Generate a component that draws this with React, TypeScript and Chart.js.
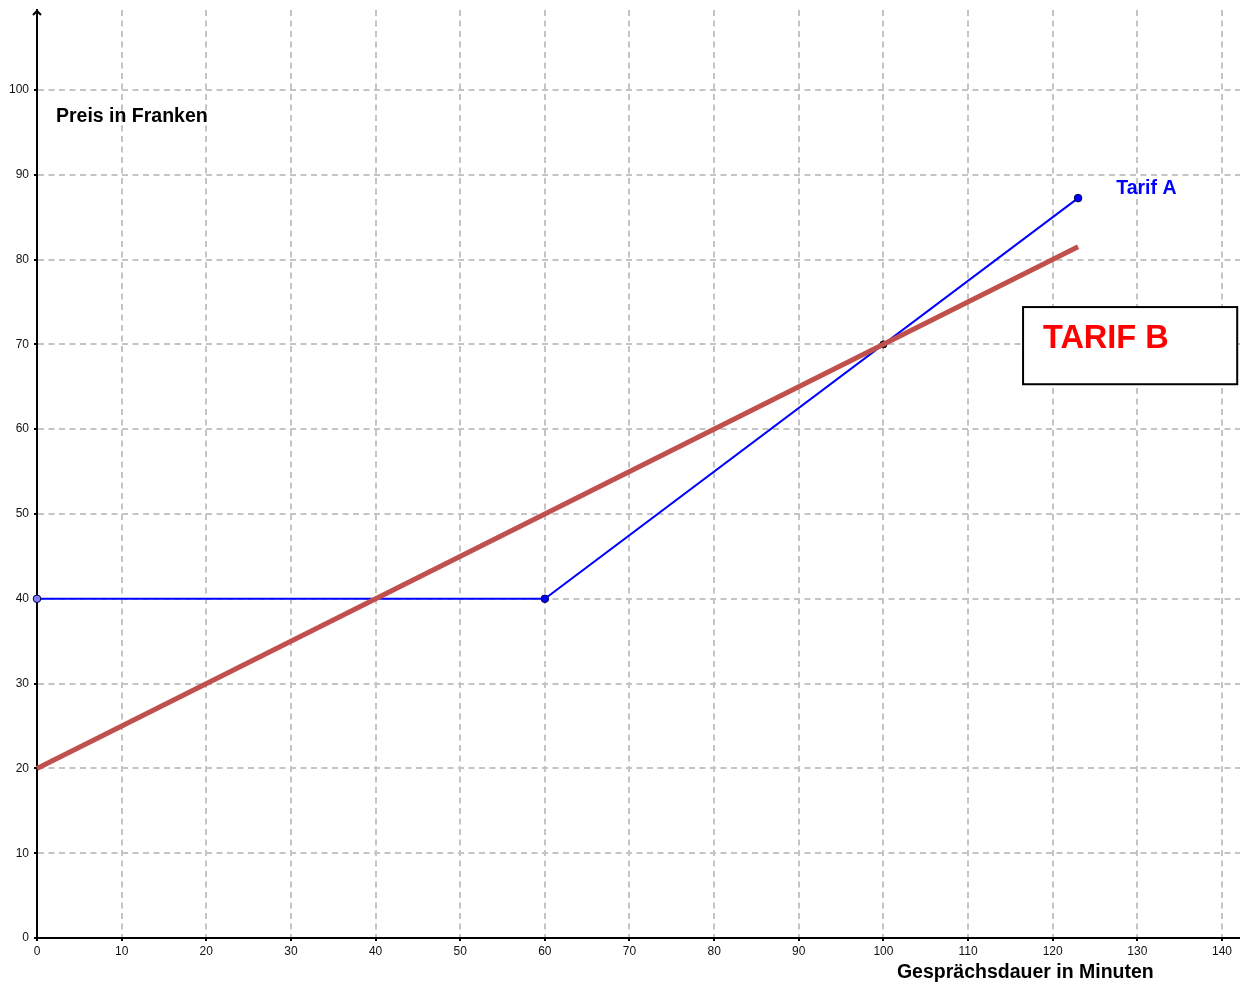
import React, { useEffect, useRef } from "react";
import { Chart, registerables } from "chart.js";

Chart.register(...registerables);

// ---- data ----
const tarifAX = [0, 60, 123];
const tarifAY = [40, 40, 87.25];
const tarifBX = [0, 123];
const tarifBY = [20, 81.5];
const crossX = [100];
const crossY = [70];
const xTicks = [0, 10, 20, 30, 40, 50, 60, 70, 80, 90, 100, 110, 120, 130, 140];
const yTicks = [0, 10, 20, 30, 40, 50, 60, 70, 80, 90, 100];
const X_MAX = 142.13;
const Y_MAX = 109.43;

const labelTarifA = "Tarif A";
const labelTarifB = "TARIF B";
const labelY = "Preis in Franken";
const labelX = "Gesprächsdauer in Minuten";

const FONT = "'Liberation Sans', Arial, sans-serif";

const toPts = (xs: number[], ys: number[]) => xs.map((x, i) => ({ x, y: ys[i] }));

const decorPlugin = {
  id: "decor",
  afterDatasetsDraw(chart: any) {
    const { ctx, scales, chartArea } = chart;
    const xs = scales.x;
    const ys = scales.y;
    ctx.save();
    const ax = xs.getPixelForValue(0);
    ctx.strokeStyle = "#000";
    ctx.lineWidth = 2;
    ctx.beginPath();
    ctx.moveTo(ax - 4, chartArea.top + 5);
    ctx.lineTo(ax, chartArea.top + 1);
    ctx.lineTo(ax + 4, chartArea.top + 5);
    ctx.stroke();

    ctx.textBaseline = "middle";
    ctx.textAlign = "left";
    ctx.fillStyle = "#000";
    ctx.font = `bold 19.5px ${FONT}`;
    ctx.fillText(labelY, xs.getPixelForValue(2.24), ys.getPixelForValue(96.8));
    ctx.fillText(labelX, xs.getPixelForValue(101.6), chartArea.bottom + 35);
    ctx.fillStyle = "#0000ff";
    ctx.fillText(labelTarifA, xs.getPixelForValue(127.5), ys.getPixelForValue(88.4));
    const bx1 = xs.getPixelForValue(116.5);
    const bx2 = xs.getPixelForValue(141.8);
    const by1 = ys.getPixelForValue(74.4);
    const by2 = ys.getPixelForValue(65.3);
    ctx.fillStyle = "#fff";
    ctx.fillRect(bx1, by1, bx2 - bx1, by2 - by1);
    ctx.strokeStyle = "#000";
    ctx.lineWidth = 2;
    ctx.strokeRect(bx1, by1, bx2 - bx1, by2 - by1);
    ctx.fillStyle = "#ff0000";
    ctx.font = `bold 32.5px ${FONT}`;
    ctx.fillText(labelTarifB, xs.getPixelForValue(118.85), ys.getPixelForValue(70.6));
    ctx.restore();
  },
};

export default function App() {
  const ref = useRef<HTMLCanvasElement>(null);
  useEffect(() => {
    if (!ref.current) return;
    const grid = {
      color: "#c4c4c4",
      lineWidth: 2,
      tickColor: "#000",
      tickLength: 3,
      tickWidth: 2,
    };
    const chart = new Chart(ref.current, {
      type: "scatter",
      data: {
        datasets: [
          {
            label: "Tarif B",
            data: toPts(tarifBX, tarifBY),
            showLine: true,
            borderColor: "#c0504d",
            borderWidth: 5,
            pointRadius: 0,
            clip: false,
            order: 0,
          },
          {
            label: "Tarif A",
            data: toPts(tarifAX, tarifAY),
            showLine: true,
            borderColor: "#0000ff",
            borderWidth: 2,
            pointRadius: 3.8,
            pointBorderWidth: 1,
            pointBorderColor: "#000044",
            pointBackgroundColor: ["#7f7fff", "#0000ff", "#0000ff"],
            clip: false,
            order: 1,
          },
          {
            label: "Schnittpunkt",
            data: toPts(crossX, crossY),
            showLine: false,
            pointRadius: 3.5,
            pointBackgroundColor: "#222",
            pointBorderColor: "#000",
            clip: false,
            order: 2,
          },
        ],
      },
      options: {
        animation: false,
        responsive: false,
        devicePixelRatio: 1,
        layout: { autoPadding: false, padding: { top: 10, right: 0, left: 0, bottom: 0 } },
        plugins: { legend: { display: false }, tooltip: { enabled: false } },
        scales: {
          x: {
            type: "linear",
            min: 0,
            max: X_MAX,
            afterBuildTicks: (axis: any) => {
              axis.ticks = xTicks.map((v) => ({ value: v }));
            },
            afterFit: (axis: any) => {
              axis.height = 47;
              axis.paddingLeft = 0;
              axis.paddingRight = 0;
            },
            grid: { ...grid },
            border: { display: true, color: "#000", width: 2, dash: [6, 4.5] },
            ticks: {
              color: "#111",
              font: { family: FONT, size: 12 },
              padding: 3,
              maxRotation: 0,
              autoSkip: false,
            },
          },
          y: {
            type: "linear",
            min: 0,
            max: Y_MAX,
            afterBuildTicks: (axis: any) => {
              axis.ticks = yTicks.map((v) => ({ value: v }));
            },
            afterFit: (axis: any) => {
              axis.width = 37;
              axis.paddingTop = 0;
              axis.paddingBottom = 0;
            },
            grid: { ...grid },
            border: { display: true, color: "#000", width: 2, dash: [6, 4.5] },
            ticks: {
              color: "#111",
              font: { family: FONT, size: 12 },
              padding: 5,
              autoSkip: false,
            },
          },
        },
      } as any,
      plugins: [decorPlugin],
    });
    return () => chart.destroy();
  }, []);
  return (
    <div style={{ position: "absolute", left: 0, top: 0, width: 1240, height: 985, background: "#fff" }}>
      <canvas ref={ref} width={1240} height={985} style={{ display: "block", width: 1240, height: 985 }} />
    </div>
  );
}
